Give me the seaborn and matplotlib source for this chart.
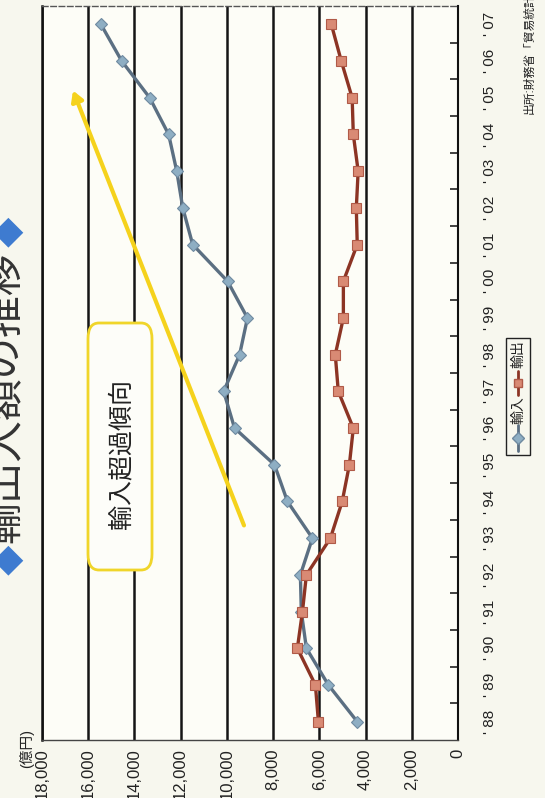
import matplotlib
matplotlib.use("Agg")
import matplotlib.pyplot as plt
import seaborn as sns
import pandas as pd
import numpy as np
from matplotlib.patches import FancyBboxPatch, Rectangle
from matplotlib.lines import Line2D

# ---- data ----
years = ["88", "89", "90", "91", "92", "93", "94", "95", "96", "97",
         "98", "99", "00", "01", "02", "03", "04", "05", "06", "07"]
imports = [4360, 5610, 6560, 6780, 6820, 6300, 7380, 7940, 9670, 10140,
           9450, 9110, 9970, 11480, 11910, 12170, 12520, 13340, 14550, 15450]
exports = [6040, 6170, 6950, 6730, 6560, 5520, 5010, 4700, 4530, 5180,
           5310, 4960, 4960, 4360, 4400, 4320, 4530, 4580, 5050, 5480]
value_ticks = [0, 2000, 4000, 6000, 8000, 10000, 12000, 14000, 16000, 18000]
series_names = ["輸入", "輸出"]
title_text = "輸出入額の推移"
unit_label = "(億円)"
note_text = "輸入超過傾向"
source_text = "出所:財務省「貿易統計」"

W, H = 545, 798
sns.set_theme(style="white")
plt.rcParams["font.family"] = ["Liberation Sans", "Noto Sans CJK JP", "DejaVu Sans"]


def fx(px):
    return px / W


def fy(py):
    return 1 - py / H


fig = plt.figure(figsize=(W / 100, H / 100), dpi=100, facecolor="#f7f7ee")
ax = fig.add_axes([fx(42), fy(740), fx(458) - fx(42), fy(6) - fy(740)])
ax.set_facecolor("#fdfdf7")

pos = list(range(len(years)))
df = pd.DataFrame({
    "pos": pos * 2,
    "value": imports + exports,
    "series": [series_names[0]] * len(years) + [series_names[1]] * len(years),
})

imp_line, imp_face, imp_edge = "#5b6f82", "#8eaec3", "#6f8aa0"
exp_line, exp_face, exp_edge = "#8c3424", "#d98a74", "#b05a48"

sns.lineplot(data=df[df.series == series_names[0]], x="value", y="pos",
             orient="y", sort=False, color=imp_line, lw=2.4, marker="D",
             markersize=6.5, markerfacecolor=imp_face, markeredgecolor=imp_edge,
             markeredgewidth=0.8, ax=ax, legend=False, zorder=4)
sns.lineplot(data=df[df.series == series_names[1]], x="value", y="pos",
             orient="y", sort=False, color=exp_line, lw=2.4, marker="s",
             markersize=7, markerfacecolor=exp_face, markeredgecolor=exp_edge,
             markeredgewidth=0.8, ax=ax, legend=False, zorder=4)

ax.set_xlim(18000, 0)
ax.set_ylim(-0.5, len(years) - 0.5)
ax.set_xlabel("")
ax.set_ylabel("")

ax.set_xticks(value_ticks, labels=[f"{v:,}" for v in value_ticks])
ax.tick_params(axis="x", labelrotation=90, length=0, pad=6, labelsize=12,
               labelcolor="#222222")
ax.grid(axis="x", color="#151515", lw=1.8)
ax.grid(axis="y", visible=False)
ax.set_axisbelow(True)

ax.yaxis.tick_right()
ax.set_yticks(pos, labels=[f"' {y}" for y in years])
ax.tick_params(axis="y", which="major", length=0, pad=18, labelsize=11,
               labelrotation=90, labelcolor="#222222")
for lab in ax.get_yticklabels():
    lab.set_va("center")
ax.set_yticks(np.arange(0.5, len(years) - 1, 1), minor=True)
ax.tick_params(axis="y", which="minor", direction="in", length=6, width=1.2,
               color="#222222", right=True, left=False)

ax.spines["left"].set_color("#111111")
ax.spines["left"].set_linewidth(1.8)
ax.spines["right"].set_color("#111111")
ax.spines["right"].set_linewidth(1.5)
ax.spines["top"].set_color("#555555")
ax.spines["top"].set_linewidth(1.0)
ax.spines["top"].set_linestyle((0, (4, 2)))
ax.spines["bottom"].set_color("#444444")
ax.spines["bottom"].set_linewidth(1.0)

# unit label
fig.text(fx(27), fy(748), unit_label, rotation=90, ha="center", va="center",
         fontsize=10.5, color="#222222")

# title
fig.text(fx(6), fy(397), title_text, rotation=90, ha="center", va="center",
         fontsize=30, color="#333333")
fig.text(fx(12), fy(232), "◆", rotation=90, ha="center", va="center",
         fontsize=22, color="#3d7bd0")
fig.text(fx(12), fy(560), "◆", rotation=90, ha="center", va="center",
         fontsize=22, color="#3d7bd0")

# yellow arrow
fig.add_artist(matplotlib.patches.FancyArrowPatch(
    (fx(245), fy(528)), (fx(72), fy(88)), transform=fig.transFigure,
    arrowstyle="-|>,head_length=6,head_width=3.5", color="#f5d21c", lw=3,
    mutation_scale=1, zorder=5))

# annotation box
box = FancyBboxPatch((fx(88), fy(570)), fx(152) - fx(88), fy(323) - fy(570),
                     boxstyle="round,pad=0,rounding_size=0.02",
                     transform=fig.transFigure, facecolor="#fdfdf9",
                     edgecolor="#f0d52a", lw=2, zorder=6)
fig.add_artist(box)
fig.text(fx(121), fy(454), note_text, rotation=90, ha="center", va="center",
         fontsize=18, color="#222222", zorder=7)

# legend (drawn rotated like the reference)
fig.add_artist(Rectangle((fx(506), fy(455)), fx(530) - fx(506), fy(338) - fy(455),
                         transform=fig.transFigure, facecolor="none",
                         edgecolor="#222222", lw=1.0))
fig.add_artist(Line2D([fx(518)] * 3, [fy(451), fy(438), fy(425)],
                      transform=fig.transFigure, color=imp_line, lw=2,
                      marker="D", markersize=6, markevery=[1],
                      markerfacecolor=imp_face, markeredgecolor=imp_edge))
fig.text(fx(518), fy(410), series_names[0], rotation=90, ha="center",
         va="center", fontsize=10, color="#222222")
fig.add_artist(Line2D([fx(518)] * 3, [fy(395), fy(383), fy(371)],
                      transform=fig.transFigure, color=exp_line, lw=2,
                      marker="s", markersize=6, markevery=[1],
                      markerfacecolor=exp_face, markeredgecolor=exp_edge))
fig.text(fx(518), fy(354), series_names[1], rotation=90, ha="center",
         va="center", fontsize=10, color="#222222")

# source
fig.text(fx(530), fy(114), source_text, rotation=90, ha="center", va="bottom",
         fontsize=8.5, color="#222222")

fig.savefig("out.png", dpi=100, facecolor=fig.get_facecolor())
